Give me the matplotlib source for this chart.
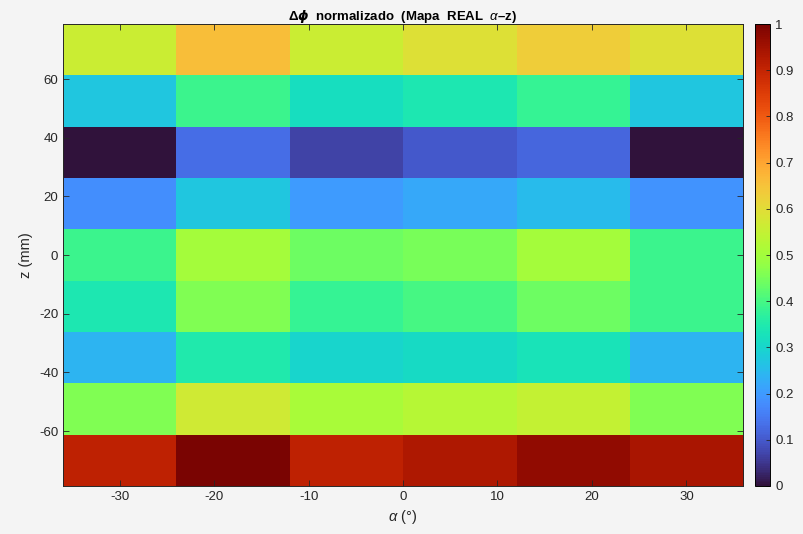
import numpy as np
import matplotlib
matplotlib.use('Agg')
import matplotlib.pyplot as plt

plt.rcParams['font.family'] = ['Liberation Sans', 'DejaVu Sans']
plt.rcParams['mathtext.fontset'] = 'custom'
plt.rcParams['mathtext.rm'] = 'Liberation Sans'
plt.rcParams['mathtext.it'] = 'Liberation Sans:italic'
plt.rcParams['mathtext.bf'] = 'Liberation Sans:bold'
plt.rcParams['axes.unicode_minus'] = False

# alpha (deg) cell centres and z (mm) cell centres
alpha = [-30, -18, -6, 6, 18, 30]
z = [-70, -52.5, -35, -17.5, 0, 17.5, 35, 52.5, 70]

# normalised delta-phi, rows ordered from z=-70 up to z=70
dphi = [
    [0.91, 1.00, 0.91, 0.93, 0.97, 0.94],   # z=-70
    [0.46, 0.57, 0.51, 0.53, 0.55, 0.46],   # z=-52.5
    [0.24, 0.35, 0.30, 0.31, 0.33, 0.24],   # z=-35
    [0.34, 0.46, 0.38, 0.40, 0.44, 0.39],   # z=-17.5
    [0.39, 0.50, 0.44, 0.45, 0.50, 0.39],   # z=0
    [0.18, 0.27, 0.20, 0.22, 0.25, 0.19],   # z=17.5
    [0.00, 0.13, 0.07, 0.10, 0.12, 0.00],   # z=35
    [0.27, 0.39, 0.32, 0.34, 0.38, 0.27],   # z=52.5
    [0.56, 0.66, 0.56, 0.59, 0.63, 0.59],   # z=70
]

xticks = [-30, -20, -10, 0, 10, 20, 30]
yticks = [-60, -40, -20, 0, 20, 40, 60]
cticks = [0, 0.1, 0.2, 0.3, 0.4, 0.5, 0.6, 0.7, 0.8, 0.9, 1]

da = alpha[1] - alpha[0]
dz = z[1] - z[0]
ext = [alpha[0] - da/2, alpha[-1] + da/2, z[0] - dz/2, z[-1] + dz/2]

fig = plt.figure(figsize=(8.04, 5.34), dpi=100, facecolor='#f4f4f4')
ax = fig.add_axes([0.0784, 0.0899, 0.8458, 0.865])
im = ax.imshow(np.array(dphi), origin='lower', extent=ext, aspect='auto',
               cmap='turbo', vmin=0, vmax=1, interpolation='nearest')
ax.set_xticks(xticks)
ax.set_yticks(yticks)
ax.tick_params(direction='in', top=True, right=True, labelsize=9.5,
               colors='#262626', length=4, width=0.6)
for s in ax.spines.values():
    s.set_linewidth(0.7)
    s.set_color('#262626')
ax.set_xlabel(r'$\alpha$ (°)', fontsize=10.5, color='#262626')
ax.set_ylabel('z (mm)', fontsize=10.5, color='#262626')
ax.set_title(r'$\mathbf{\Delta}\boldsymbol{\phi}$  normalizado  (Mapa  REAL  $\alpha$–z)',
             fontsize=9.5, fontweight='bold', color='#000000', pad=3)

cax = fig.add_axes([0.939, 0.0899, 0.019, 0.865])
cb = fig.colorbar(im, cax=cax, ticks=cticks)
cb.ax.set_yticklabels(['0', '0.1', '0.2', '0.3', '0.4', '0.5', '0.6', '0.7', '0.8', '0.9', '1'])
cb.ax.tick_params(direction='in', labelsize=9.5, colors='#262626', length=3, width=0.6)
cb.outline.set_linewidth(0.7)

plt.savefig('out.png', dpi=100, facecolor=fig.get_facecolor())
plt.close()
